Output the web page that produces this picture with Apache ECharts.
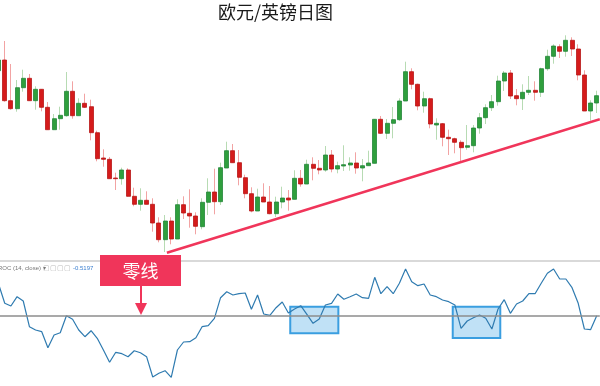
<!DOCTYPE html>
<html><head><meta charset="utf-8">
<script src="https://cdn.jsdelivr.net/npm/echarts@6/dist/echarts.min.js"></script>
<style>html,body{margin:0;padding:0;background:#fff}#c{width:600px;height:386px}</style>
</head><body><div id="c"></div>
<script>
const titleText = '欧元/英镑日图';
const open = [189.3,200,159.3,151.3,172.3,181.7,159.3,170.7,152.7,130.3,
141.3,144.3,168.7,144.3,156.7,153.3,127.3,102,100.7,82,
81.3,90,63.7,55.7,59.7,55.7,37,20.3,39,21,
55.3,46.7,44,33.3,57.7,68,58.3,92,109.3,97.3,
82.3,66.3,49,63,58,46.3,58,62,60.7,81.7,
76,95.7,91.7,90,105,91,94,95,97,92,
94.3,96.7,140.7,126.7,136.7,140.3,159,188.3,175.7,154,
161.3,135,136.3,122.7,121.3,117.7,112.7,114.3,132,142.3,
152.3,158.3,179,187,164.3,161.3,167.7,169.7,167.7,191.3,
203.7,213.3,208.7,219.7,211,185,149,157];
const close = [200,159.3,151.3,172.3,181.7,159.3,170.7,152.7,130.3,141.3,
144.7,168.7,144.3,156.7,152.7,127.3,101.3,100.7,81.3,81.3,
90,63.7,55.7,59.7,55.7,37,20.3,39,21,55.3,
47,44,33.7,57.7,68,58.3,92.3,109.3,97.3,82.7,
66.3,49,63,58,46.3,58,62,60,81.7,76,
95.7,91.7,90,105,91,94.3,95.3,97,92,94.3,
97,140.7,126.7,136.7,140.3,159,188.3,175.7,154,161.3,
136,136.7,122.7,121.3,117.7,112.3,114.3,132,142.3,152.3,
158.3,179,187,164,161.3,167.7,169.7,167.7,191.3,203.7,
214,208.7,219.7,211,185,149,157,164.3];
const low = [187,158.3,150.3,148.3,168.3,159.3,150.3,148.7,130.3,130.3,
130.3,143.3,141.3,144.3,152,119.7,98.7,93.3,81.3,70,
75.3,63.7,53.7,49.3,55.7,28.3,17.7,8,15.7,21,
41,32.3,25.7,30.7,45,45.7,55,92,97.3,74.7,
61.7,47.7,49,58,45.7,43,51.7,49.3,60.7,73.3,
76,79.7,85.7,88.3,87.7,86.7,89,89.3,86.3,78.7,
94.3,96.7,126,121,121.7,139,159,170.7,149.7,147.3,
131.7,120.3,113.7,105,106.7,98,110.3,107.7,126.3,136,
149,154.3,169,161,154.7,150,165,159.3,163,189.3,
196.3,202,203.3,204,179.7,149,139.3,147];
const high = [204,219,196,180,190.3,186,173.7,171,158,146,
153.3,188,178.7,161.7,166.3,160.3,129.3,110.7,103,87.3,
92.3,91.7,72.3,71.7,68.7,61.7,42.7,45,42.7,60.7,
63.7,70.7,47.7,61.7,81.7,91.3,97.3,118.3,116,110,
85.3,72.7,71.3,76.7,74,63.3,73.3,70,89.7,90,
100.3,102.7,100,114,110,98.3,114.7,102.7,107.7,101,
109.3,141,144,141,153,161.7,198.3,191.7,176.3,168.3,
162.3,141.7,137,130.3,122.3,119.7,135,135,147,155.7,
165,184.3,189,190,171,175.7,184,178.7,192.3,210.3,
215.7,215.7,224.7,222.7,215.7,189.7,159.7,169.3];
const roc = [3.13,1.20,0.93,1.86,1.43,-1.14,-1.47,-1.64,-3.24,-1.97,
-1.74,-0.04,-0.40,-1.47,-2.14,-1.54,-2.30,-3.47,-4.70,-3.70,
-3.84,-4.14,-3.54,-3.74,-4.14,-6.17,-5.80,-5.54,-6.20,-3.47,
-2.67,-2.64,-2.24,-1.14,-1.04,-0.30,1.76,2.36,2.03,2.16,
2.23,0.60,2.03,0.13,0.00,0.76,1.33,0.23,0.63,0.96,
0.10,-0.80,-0.37,1.03,1.20,2.13,1.60,1.86,2.13,1.76,
1.70,3.80,2.16,2.86,2.16,3.20,4.63,3.36,2.96,3.13,
2.03,1.86,1.53,1.36,1.03,-1.30,-0.57,-0.24,0.03,-0.30,
-1.37,0.63,1.56,0.20,1.13,1.43,2.16,2.16,3.20,4.20,
4.63,3.63,3.63,2.76,1.20,-1.37,-1.44,-0.04];
const categories = open.map((_, i) => 'D' + (i + 1));
const trendX = [27.3, 97.5];
const trendY = [7.3, 140.7];
const box1 = [[47.3, 0.86], [55.1, -1.8]];
const box2 = [[73.65, 0.86], [81.36, -2.27]];
const rocHeader = 'ROC (14, close)';
const rocLast = '-0.5197';
const zeroLabel = '零线';

const candleData = open.map((o, i) => [o, close[i], low[i], high[i]]);
const bodyData = open.map((o, i) => [o, close[i], Math.min(o, close[i]), Math.max(o, close[i])]);
const rocData = roc.map((v, i) => [i, v]);
const trendData = trendX.map((x, i) => [x, trendY[i]]);

const chart = echarts.init(document.getElementById('c'));
const PINK = '#f0355a';
chart.setOption({
  animation: false,
  backgroundColor: '#fff',
  title: { text: titleText, left: 213, top: -2,
    textStyle: { fontSize: 18, fontWeight: 'normal', color: '#1a1a1a', fontFamily: 'Noto Sans CJK SC' } },
  grid: [
    { left: -4.5, right: 0.2, top: 0, height: 260, outerBoundsMode: 'none', containLabel: false },
    { left: -4.5, right: 0.2, top: 255.3, height: 130, outerBoundsMode: 'none', containLabel: false }
  ],
  xAxis: [
    { type: 'category', gridIndex: 0, data: categories, show: false, boundaryGap: true },
    { type: 'value', gridIndex: 0, min: -0.5, max: 97.5, show: false },
    { type: 'value', gridIndex: 1, min: -0.5, max: 97.5, show: false }
  ],
  yAxis: [
    { type: 'value', gridIndex: 0, min: 0, max: 260, show: false },
    { type: 'value', gridIndex: 1, min: -7, max: 6, show: false }
  ],
  series: [
    { type: 'candlestick', xAxisIndex: 0, yAxisIndex: 0, data: candleData, barWidth: 1,
      itemStyle: { color: '#b7dbb3', color0: '#f2a3a3', borderColor: '#b7dbb3', borderColor0: '#f2a3a3', borderWidth: 1 } },
    { type: 'candlestick', xAxisIndex: 0, yAxisIndex: 0, data: bodyData, barWidth: 4.6,
      itemStyle: { color: '#2f9f3d', color0: '#d51b1b', borderColor: '#23873a', borderColor0: '#b81616', borderWidth: 0.8 } },
    { type: 'line', xAxisIndex: 1, yAxisIndex: 0, data: trendData, symbol: 'none',
      lineStyle: { color: PINK, width: 2.5 }, z: 5 },
    { type: 'line', xAxisIndex: 2, yAxisIndex: 1, data: rocData, symbol: 'none',
      lineStyle: { color: '#2f7bb0', width: 1.2 }, z: 4,
      markLine: { silent: true, symbol: 'none', label: { show: false },
        lineStyle: { color: '#8c8c8c', width: 1.5, type: 'solid' }, data: [{ yAxis: 0 }] },
      markArea: { silent: true,
        itemStyle: { color: 'rgba(150,205,240,0.6)', borderColor: '#3a9ee0', borderWidth: 2 },
        data: [
          [{ coord: box1[0] }, { coord: box1[1] }],
          [{ coord: box2[0] }, { coord: box2[1] }]
        ] } }
  ],
  graphic: [
    { type: 'line', shape: { x1: 0, y1: 261, x2: 600, y2: 261 }, style: { stroke: '#d9d9d9', lineWidth: 2 }, z: 1 },
    { type: 'text', left: -2, top: 265, style: { text: rocHeader + ' ▾', fontSize: 6, fill: '#777', fontFamily: 'Liberation Sans' } },
    { type: 'text', left: 43, top: 265, style: { text: '▢▢▢▢', fontSize: 7, fill: '#bbb' } },
    { type: 'text', left: 73, top: 265, style: { text: rocLast, fontSize: 6, fill: '#3a7fd0', fontFamily: 'Liberation Sans' } },
    { type: 'rect', shape: { x: 100, y: 255, width: 81, height: 31 }, style: { fill: PINK }, z: 10 },
    { type: 'text', x: 140.5, y: 271, style: { text: zeroLabel, fill: '#fff', fontSize: 18, fontFamily: 'Noto Sans CJK SC', align: 'center', verticalAlign: 'middle' }, z: 11 },
    { type: 'line', shape: { x1: 141, y1: 286, x2: 141, y2: 304 }, style: { stroke: PINK, lineWidth: 2 }, z: 10 },
    { type: 'polygon', shape: { points: [[135, 303], [147, 303], [141, 315]] }, style: { fill: PINK }, z: 10 }
  ]
});
</script></body></html>
